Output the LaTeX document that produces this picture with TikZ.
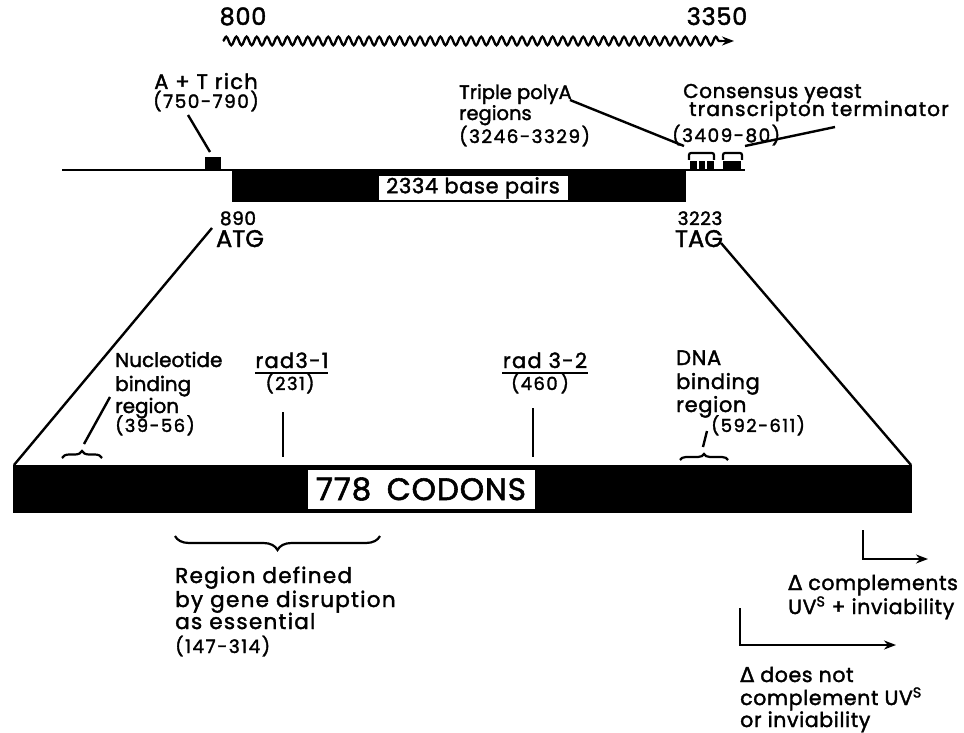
\documentclass[tikz,border=0pt]{standalone}
\usepackage{fontspec}
\setmainfont{Poppins}[FakeBold=1.8]
\newfontfamily\fwa{Poppins}[LetterSpace=3,FakeBold=1.8]
\newfontfamily\fwb{Poppins}[LetterSpace=6,FakeBold=1.8]
\newfontfamily\fnum{Poppins}[LetterSpace=8,FakeBold=1.8]
\newfontfamily\fsym{DejaVu Sans}[FakeBold=1.8]
\usetikzlibrary{decorations.pathmorphing,decorations.pathreplacing,arrows.meta}
\newcommand{\Dlt}{{\fsym Δ}}
\newcommand{\fs}[1]{\fontsize{#1}{#1}\selectfont}
\begin{document}
\begin{tikzpicture}[x=1pt,y=-1pt,
  t/.style={inner sep=0pt, anchor=base west},
  tc/.style={inner sep=0pt, anchor=base},
  lead/.style={line width=2.4pt},
  brc/.style={line width=2.2pt, decorate, decoration={brace, amplitude=#1}},
  arr/.style={line width=2.4pt, -{Stealth[length=12pt,width=9pt]}}]
\useasboundingbox (0,0) rectangle (964,733);

% top numbers and transcript
\node[tc, font=\fwa\fs{24}] (n800) at (243,25) {800};
\node[tc, font=\fwa\fs{24}] (n3350) at (717,25) {3350};
\coordinate (w0) at (223,41);
\coordinate (w1) at (734,41);
\coordinate (w2) at (722,41);
\draw[line width=2.3pt, decorate, decoration={snake, amplitude=4.3pt, segment length=10.2pt}] (w0) -- (w2);
\draw[arr] (w2) -- (w1);

% gene map
\coordinate (b0) at (62,170);
\coordinate (b1) at (745,170);
\draw[line width=2.8pt] (b0) -- (b1);
\fill (232,169) rectangle (686,202);
\node[draw, fill=white, line width=1pt, minimum width=190pt, minimum height=24pt, inner sep=0pt,
      font=\fwa\fs{21}] (bp) at (473,188) {2334 base pairs};
\fill (205,157) rectangle (221,171);
% polyA blocks and terminator
\fill (690,161) rectangle (697,171);
\fill (699,161) rectangle (705,171);
\fill (707,161) rectangle (714,171);
\fill (723,161) rectangle (741,171);
\draw[line width=2.2pt, rounded corners=2pt] (689,160) -- (689,153) -- (714,153) -- (714,160);
\draw[line width=2.2pt, rounded corners=2pt] (723,160) -- (723,153) -- (742,153) -- (742,160);

% A+T rich
\node[tc, font=\fwb\fs{21}] (at) at (206,89) {A + T rich};
\node[tc, font=\fnum\fs{18.5}] (atn) at (206,108) {(750-790)};
\coordinate (at1) at (188,115);
\coordinate (at2) at (210,152);
\draw[lead] (at1) -- (at2);

% triple polyA
\node[t, font=\fs{19.5}] (tp) at (459,99) {Triple polyA};
\node[t, font=\fs{19.5}] (tp2) at (459,120) {regions};
\node[t, font=\fnum\fs{18.5}] (tpn) at (459,143) {(3246-3329)};
\coordinate (tp3) at (570,100);
\coordinate (tp4) at (684,146);
\draw[lead] (tp3) -- (tp4);

% terminator
\node[t, font=\fwa\fs{20}] (ct) at (683,98) {Consensus yeast};
\node[t, font=\fwb\fs{20}] (ct2) at (689,116) {transcripton terminator};
\node[t, font=\fnum\fs{18.5}] (ctn) at (672,142) {(3409-80)};
\coordinate (ct3) at (745,146);
\coordinate (ct4) at (835,127);
\draw[lead] (ct3) -- (ct4);

% ATG / TAG
\node[tc, font=\fwa\fs{18.5}] (n890) at (238,225) {890};
\node[tc, font=\fs{24}] (atg) at (240,247) {ATG};
\node[tc, font=\fwa\fs{18.5}] (n3223) at (700,225) {3223};
\node[tc, font=\fs{24}] (tag) at (699,247) {TAG};

% big codon bar
\fill (13,465) rectangle (912,513);
\node[draw, fill=white, line width=1pt, minimum width=228pt, minimum height=40pt, inner sep=0pt,
      font=\fwa\fs{31}] (cod) at (421,489) {778\enspace CODONS};
\coordinate (t0) at (212,228);
\coordinate (t1) at (14,465);
\coordinate (t2) at (721,243);
\coordinate (t3) at (911,465);
\draw[lead] (t0) -- (t1);
\draw[lead] (t2) -- (t3);

% nucleotide binding
\node[t, font=\fs{20}] (nb1) at (115,367) {Nucleotide};
\node[t, font=\fs{20}] (nb2) at (115,391) {binding};
\node[t, font=\fs{20}] (nb3) at (115,413) {region};
\node[t, font=\fnum\fs{18}] (nb4) at (115,432) {(39-56)};
\coordinate (nbl1) at (110,397);
\coordinate (nbl2) at (84,444);
\draw[lead] (nbl1) -- (nbl2);
\draw[brc=7pt] (62,458) -- (102,458);

% rad3-1
\node[tc, font=\fwb\fs{21}] (r1) at (292,368) {rad3-1};
\draw[line width=1.9pt] (255,373) -- (328,373);
\node[tc, font=\fnum\fs{18}] (r1n) at (290,390) {(231)};
\coordinate (r1a) at (283,412);
\coordinate (r1b) at (283,457);
\draw[lead] (r1a) -- (r1b);

% rad3-2
\node[tc, font=\fwb\fs{21}] (r2) at (545,368) {rad 3-2};
\draw[line width=1.9pt] (502,373) -- (588,373);
\node[tc, font=\fnum\fs{18}] (r2n) at (540,390) {(460\,)};
\coordinate (r2a) at (533,408);
\coordinate (r2b) at (533,457);
\draw[lead] (r2a) -- (r2b);

% DNA binding
\node[t, font=\fwa\fs{21}] (dn1) at (676,365) {DNA};
\node[t, font=\fwa\fs{21}] (dn2) at (676,389) {binding};
\node[t, font=\fwa\fs{21}] (dn3) at (676,412) {region};
\node[t, font=\fnum\fs{18}] (dnn) at (711,432) {(592-611)};
\coordinate (dnl1) at (707,431);
\coordinate (dnl2) at (703,447);
\draw[lead] (dnl1) -- (dnl2);
\draw[brc=6pt] (680,460) -- (728,460);

% essential region
\draw[brc=14pt] (380,536) -- (175,536);
\node[t, font=\fwb\fs{21.5}] (es1) at (175,583) {Region defined};
\node[t, font=\fwb\fs{21.5}] (es2) at (175,607) {by gene disruption};
\node[t, font=\fwb\fs{21.5}] (es3) at (175,629) {as essential};
\node[t, font=\fnum\fs{18.5}] (es4) at (175,653) {(147-314)};

% deletions
\coordinate (d1a) at (863,530);
\coordinate (d1b) at (863,559);
\coordinate (d1c) at (928,559);
\draw[arr] (d1a) -- (d1b) -- (d1c);
\node[t, font=\fwa\fs{20.5}] (dc1) at (788,590) {\Dlt{} complements};
\node[t, font=\fwa\fs{20.5}] (dc2) at (788,614) {UV\textsuperscript{S} + inviability};

\coordinate (d2a) at (740,608);
\coordinate (d2b) at (740,645);
\coordinate (d2c) at (896,645);
\draw[arr] (d2a) -- (d2b) -- (d2c);
\node[t, font=\fwa\fs{20.5}] (dd1) at (740,682) {\Dlt{} does not};
\node[t, font=\fwa\fs{20.5}] (dd2) at (740,705) {complement UV\textsuperscript{S}};
\node[t, font=\fwa\fs{20.5}] (dd3) at (740,727) {or inviability};
\end{tikzpicture}
\end{document}
